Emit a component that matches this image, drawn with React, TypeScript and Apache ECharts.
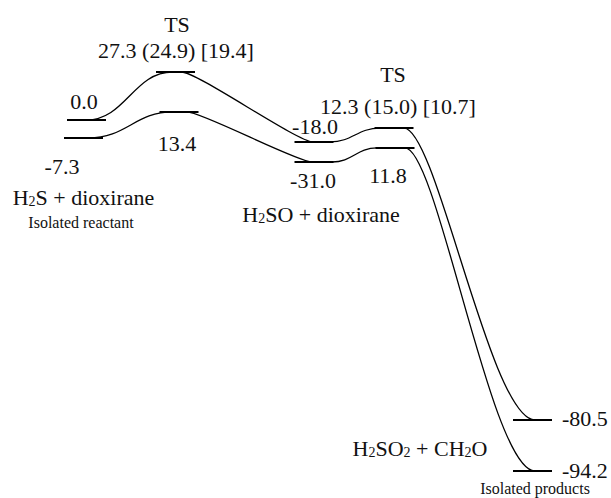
import React, { useEffect, useRef } from "react";
import * as echarts from "echarts";

// Printed energies (kcal/mol)
const upperEnergy = [0.0, 27.3, -18.0, 12.3, -80.5];
const lowerEnergy = [-7.3, 13.4, -31.0, 11.8, -94.2];
// Alternative TS values printed in parentheses and brackets
const tsParen = [24.9, 15.0];
const tsBracket = [19.4, 10.7];
// Schematic diagram placement (reaction coordinate, drawn height)
const upperX = [0.865, 1.755, 3.14, 3.94, 5.325];
const lowerX = [0.835, 1.79, 3.14, 3.95, 5.325];
const upperLevel = [-14.0, 2.0, -21.3, -16.7, -114.0];
const lowerLevel = [-20.0, -11.3, -28.0, -23.3, -131.0];
// Stage names
const tsName = "TS";
const stageNames = ["H{s|2}S + dioxirane", "H{s|2}SO + dioxirane", "H{s|2}SO{s|2} + CH{s|2}O"];
const stageNotes = ["Isolated reactant", "Isolated products"];

const FONT = "Liberation Serif";
const HALF = 19.5;

type Conn = { from: number; to: number; k1: number; k2: number };
type Lab = { dx: number; dy: number; align?: string };

const upperConn: Conn[] = [
  { from: 0, to: -3, k1: 0.45, k2: 0.45 },
  { from: 6, to: -1, k1: 0.12, k2: 0.12 },
  { from: 16, to: -14, k1: 0.45, k2: 0.45 },
  { from: 10, to: 2.5, k1: 0.25, k2: 0.34 },
];
const lowerConn: Conn[] = [
  { from: 5, to: -6, k1: 0.45, k2: 0.45 },
  { from: 8, to: -2, k1: 0.12, k2: 0.12 },
  { from: 18, to: -18, k1: 0.45, k2: 0.45 },
  { from: 10, to: 2.5, k1: 0.25, k2: 0.34 },
];
const upperLab: Lab[] = [
  { dx: -2.5, dy: -19 },
  { dx: 0.5, dy: -22 },
  { dx: 1, dy: -15 },
  { dx: 4, dy: -22 },
  { dx: 29.5, dy: -2, align: "left" },
];
const lowerLab: Lab[] = [
  { dx: -21.5, dy: 28 },
  { dx: -2, dy: 32 },
  { dx: -1, dy: 18 },
  { dx: -7, dy: 28 },
  { dx: 29.5, dy: -1, align: "left" },
];
const tsTitleOffset = [
  { dx: 1.5, dy: -48 },
  { dx: -1, dy: -54 },
];

function makeRender(xs: number[], ys: number[], energies: number[], conns: Conn[], labs: Lab[], isUpper: boolean) {
  return (params: any, api: any) => {
    const i = params.dataIndex;
    const p = api.coord([api.value(0), api.value(1)]);
    const children: any[] = [];
    children.push({
      type: "line",
      shape: { x1: p[0] - HALF, y1: p[1], x2: p[0] + HALF, y2: p[1] },
      style: { stroke: "#000", lineWidth: 2 },
    });
    if (i < xs.length - 1) {
      const q = api.coord([xs[i + 1], ys[i + 1]]);
      const c = conns[i];
      const x0 = p[0] + c.from;
      const x3 = q[0] + c.to;
      const dx = x3 - x0;
      children.push({
        type: "bezierCurve",
        shape: {
          x1: x0, y1: p[1],
          cpx1: x0 + c.k1 * dx, cpy1: p[1],
          cpx2: x3 - c.k2 * dx, cpy2: q[1],
          x2: x3, y2: q[1],
        },
        style: { stroke: "#000", fill: "none", lineWidth: 1.3 },
      });
    }
    let txt = energies[i].toFixed(1);
    const tsIdx = i === 1 ? 0 : i === 3 ? 1 : -1;
    if (isUpper && tsIdx >= 0) {
      txt = `${txt} (${tsParen[tsIdx].toFixed(1)}) [${tsBracket[tsIdx].toFixed(1)}]`;
      children.push({
        type: "text",
        x: p[0] + tsTitleOffset[tsIdx].dx,
        y: p[1] + tsTitleOffset[tsIdx].dy,
        style: {
          text: tsName, font: `22px ${FONT}`, fontFamily: FONT, fontSize: 22, fill: "#111",
          align: "center", verticalAlign: "middle",
        },
      });
    }
    const l = labs[i];
    children.push({
      type: "text",
      x: p[0] + l.dx,
      y: p[1] + l.dy,
      style: {
        text: txt, font: `22px ${FONT}`, fontFamily: FONT, fontSize: 22, fill: "#111",
        align: l.align || "center", verticalAlign: "middle",
      },
    });
    return { type: "group", children };
  };
}

const sub = { s: { fontSize: 14, fontFamily: FONT, fill: "#111", verticalAlign: "bottom" } };

function nameText(text: string, x: number, y: number) {
  return {
    type: "text", x, y,
    style: {
      text, rich: sub, font: `22px ${FONT}`, fontFamily: FONT, fontSize: 22, fill: "#111",
      align: "center", verticalAlign: "middle",
    },
  };
}
function noteText(text: string, x: number, y: number) {
  return {
    type: "text", x, y,
    style: { text, font: `16px ${FONT}`, fontFamily: FONT, fontSize: 16, fill: "#111", align: "center", verticalAlign: "middle" },
  };
}

export default function App() {
  const ref = useRef<HTMLDivElement>(null);
  useEffect(() => {
    if (!ref.current) return;
    const chart = echarts.init(ref.current, undefined, { renderer: "svg" });
    chart.setOption({
      animation: false,
      backgroundColor: "#fff",
      textStyle: { fontFamily: FONT },
      grid: { left: 0, right: 0, top: 0, bottom: 0 },
      xAxis: { type: "value", min: 0, max: 6.11, show: false },
      yAxis: { type: "value", min: -140, max: 26, show: false },
      series: [
        {
          type: "custom",
          name: "upper",
          data: upperX.map((x, i) => [x, upperLevel[i], upperEnergy[i]]),
          encode: { x: 0, y: 1 },
          renderItem: makeRender(upperX, upperLevel, upperEnergy, upperConn, upperLab, true),
        },
        {
          type: "custom",
          name: "lower",
          data: lowerX.map((x, i) => [x, lowerLevel[i], lowerEnergy[i]]),
          encode: { x: 0, y: 1 },
          renderItem: makeRender(lowerX, lowerLevel, lowerEnergy, lowerConn, lowerLab, false),
        },
      ],
      graphic: [
        nameText(stageNames[0], 83.5, 197),
        noteText(stageNotes[0], 81, 222),
        nameText(stageNames[1], 321, 214),
        nameText(stageNames[2], 420, 448),
        noteText(stageNotes[1], 535, 488),
      ],
    });
    return () => chart.dispose();
  }, []);
  return (
    <div
      ref={ref}
      style={{ position: "fixed", left: 0, top: 0, width: 611, height: 498, background: "#fff" }}
    />
  );
}
